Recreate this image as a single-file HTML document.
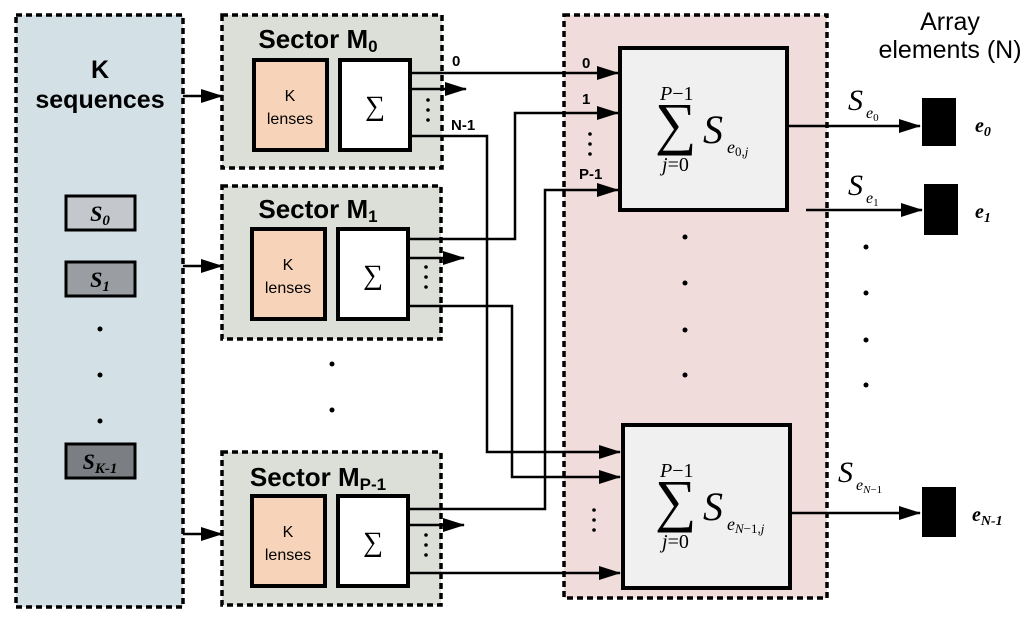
<!DOCTYPE html>
<html><head><meta charset="utf-8"><style>body{margin:0;background:#fff}svg{display:block}</style></head><body>
<svg width="1024" height="633" viewBox="0 0 1024 633" xmlns="http://www.w3.org/2000/svg" font-family="Liberation Sans, sans-serif">
<defs><marker id="b" markerWidth="22" markerHeight="14" refX="21" refY="7" orient="auto" markerUnits="userSpaceOnUse" viewBox="0 0 22 14"><path d="M0,0 L22,7 L0,14 z" fill="#000"/></marker></defs>
<g stroke="#000" stroke-width="3.5" stroke-dasharray="6,4">
<rect x="16" y="15" width="167" height="592" fill="#d3e1e6"/>
<rect x="222" y="15" width="220" height="153" fill="#dcdfd8"/>
<rect x="222" y="186" width="219" height="153" fill="#dcdfd8"/>
<rect x="222" y="452" width="219" height="153" fill="#dcdfd8"/>
<rect x="564" y="15" width="263" height="583" fill="#f0dcdb"/>
</g>
<g font-weight="bold" font-size="25" text-anchor="middle">
<text x="100" y="78">K</text><text x="100" y="108">sequences</text>
<text x="950" y="30" font-weight="normal" font-size="25">Array</text>
<text x="950" y="58" font-weight="normal" font-size="25">elements (N)</text>
<text x="318" y="48" font-size="26">Sector M<tspan font-size="17" dy="4">0</tspan></text>
<text x="318" y="218" font-size="26">Sector M<tspan font-size="17" dy="4">1</tspan></text>
<text x="318" y="486" font-size="26">Sector M<tspan font-size="17" dy="4">P-1</tspan></text>
</g>
<g stroke="#000" stroke-width="3">
<rect x="66" y="196" width="69" height="34" fill="#c4c8cc"/>
<rect x="66" y="262" width="69" height="34" fill="#9a9ea3"/>
<rect x="66" y="444" width="69" height="34" fill="#7b7f84"/>
</g>
<g font-family="Liberation Serif, serif" font-style="italic" font-weight="bold" font-size="22" text-anchor="middle">
<text x="100" y="221">S<tspan font-size="15" dy="4">0</tspan></text>
<text x="100" y="287">S<tspan font-size="15" dy="4">1</tspan></text>
<text x="100" y="469">S<tspan font-size="15" dy="4">K-1</tspan></text>
</g>
<g fill="#000"><circle cx="100" cy="329" r="2.5"/><circle cx="100" cy="375" r="2.5"/><circle cx="100" cy="421" r="2.5"/>
<circle cx="332" cy="364" r="2.5"/><circle cx="332" cy="410" r="2.5"/>
<circle cx="685" cy="237" r="2.5"/><circle cx="685" cy="283" r="2.5"/><circle cx="685" cy="330" r="2.5"/><circle cx="685" cy="375" r="2.5"/>
<circle cx="866" cy="247" r="2.5"/><circle cx="866" cy="293" r="2.5"/><circle cx="866" cy="340" r="2.5"/><circle cx="866" cy="385" r="2.5"/>
<circle cx="428" cy="100" r="1.8"/><circle cx="428" cy="110" r="1.8"/><circle cx="428" cy="120" r="1.8"/>
<circle cx="426" cy="267" r="1.8"/><circle cx="426" cy="277" r="1.8"/><circle cx="426" cy="287" r="1.8"/>
<circle cx="426" cy="535" r="1.8"/><circle cx="426" cy="545" r="1.8"/><circle cx="426" cy="555" r="1.8"/>
<circle cx="590" cy="134" r="1.8"/><circle cx="590" cy="144" r="1.8"/><circle cx="590" cy="154" r="1.8"/>
<circle cx="594" cy="510" r="1.8"/><circle cx="594" cy="520" r="1.8"/><circle cx="594" cy="530" r="1.8"/>
</g>
<g stroke="#000" stroke-width="4">
<rect x="254" y="60" width="73" height="90" fill="#f7d3b9"/><rect x="340" y="60" width="70" height="90" fill="#fff"/>
<rect x="252" y="229" width="73" height="90" fill="#f7d3b9"/><rect x="338" y="229" width="70" height="90" fill="#fff"/>
<rect x="252" y="496" width="73" height="90" fill="#f7d3b9"/><rect x="338" y="496" width="70" height="90" fill="#fff"/>
<rect x="620" y="48" width="167" height="162" fill="#f0f0f0"/>
<rect x="623" y="425" width="167" height="163" fill="#f0f0f0"/>
</g>
<g text-anchor="middle" font-size="16">
<text x="290" y="101">K</text><text x="290" y="124">lenses</text>
<text x="288" y="270">K</text><text x="288" y="293">lenses</text>
<text x="288" y="537">K</text><text x="288" y="560">lenses</text>
</g>
<g font-family="Liberation Serif, serif" font-size="28" text-anchor="middle">
<text x="375" y="115">∑</text><text x="373" y="284">∑</text><text x="373" y="551">∑</text>
</g>
<g fill="none" stroke="#000" stroke-width="2.5" marker-end="url(#b)">
<path d="M183,96 H222"/><path d="M183,266 H222"/><path d="M183,534 H222"/>
<path d="M410,73 H618"/><path d="M410,89 H466"/>
<path d="M410,136 H487 V452 H620"/>
<path d="M408,239 H515 V113 H618"/><path d="M408,258 H464"/>
<path d="M408,306 H512 V477 H620"/>
<path d="M408,509 H545 V190 H618"/><path d="M408,525 H464"/>
<path d="M408,573 H620"/>
<path d="M787,126 H920"/><path d="M806,210 H922"/><path d="M790,513 H920"/>
</g>
<g font-weight="bold" font-size="15">
<text x="452" y="66">0</text><text x="451" y="130">N-1</text>
<text x="582" y="68">0</text><text x="582" y="104">1</text><text x="579" y="179">P-1</text>
</g>
<g fill="#000"><rect x="922" y="98" width="34" height="48"/><rect x="924" y="184" width="34" height="51"/><rect x="922" y="487" width="34" height="50"/></g>
<g font-family="Liberation Serif, serif" font-style="italic" font-weight="bold" font-size="20">
<text x="975" y="132">e<tspan font-size="14" dy="4">0</tspan></text>
<text x="975" y="218">e<tspan font-size="14" dy="4">1</tspan></text>
<text x="972" y="521">e<tspan font-size="14" dy="4">N-1</tspan></text>
</g>
<g font-family="Liberation Serif, serif" font-style="italic">
<text x="848" y="110" font-size="30">S</text><text x="866" y="118" font-size="16">e<tspan font-size="11" dy="3" font-style="normal">0</tspan></text>
<text x="848" y="195" font-size="30">S</text><text x="866" y="203" font-size="16">e<tspan font-size="11" dy="3" font-style="normal">1</tspan></text>
<text x="838" y="482" font-size="30">S</text><text x="856" y="490" font-size="16">e<tspan font-size="11" dy="3">N</tspan><tspan font-size="11" font-style="normal">−1</tspan></text>
<text x="660" y="100" font-size="20">P<tspan font-style="normal">−1</tspan></text>
<text x="662" y="171" font-size="20">j<tspan font-style="normal">=0</tspan></text>
<text x="655" y="143" font-size="58" font-style="normal">∑</text>
<text x="703" y="143" font-size="40">S</text><text x="727" y="153" font-size="18">e<tspan font-size="13" dy="3" font-style="normal">0,</tspan><tspan font-size="13">j</tspan></text>
<text x="660" y="477" font-size="20">P<tspan font-style="normal">−1</tspan></text>
<text x="662" y="548" font-size="20">j<tspan font-style="normal">=0</tspan></text>
<text x="655" y="520" font-size="58" font-style="normal">∑</text>
<text x="703" y="520" font-size="40">S</text><text x="727" y="530" font-size="18">e<tspan font-size="13" dy="3">N</tspan><tspan font-size="13" font-style="normal">−1,</tspan><tspan font-size="13">j</tspan></text>
</g>
</svg>
</body></html>
